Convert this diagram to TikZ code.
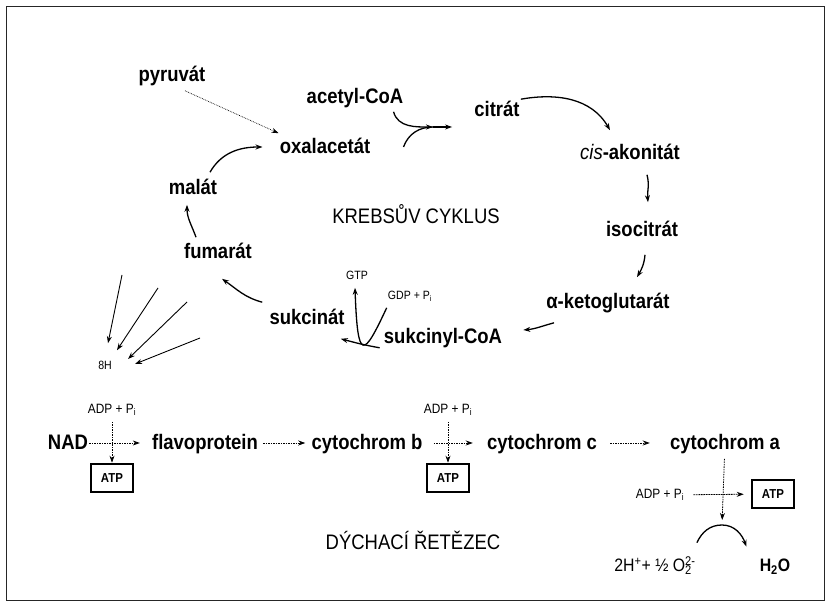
\documentclass[tikz,border=0pt]{standalone}
\usepackage{fontspec}
\setmainfont{Liberation Sans}[FakeStretch=0.88]
\usetikzlibrary{arrows.meta}

\tikzset{
  met/.style={font=\fontsize{21}{24}\selectfont\bfseries,inner sep=1pt,text height=16pt,text depth=3pt},
  ttl/.style={font=\fontsize{21}{24}\selectfont,inner sep=1pt},
  sml/.style={font=\fontsize{12}{14}\selectfont,inner sep=1pt,text height=9pt,text depth=2pt},
  adp/.style={sml,font=\fontsize{13.5}{15}\selectfont},
  rct/.style={font=\fontsize{18}{20}\selectfont,inner sep=1pt,text height=13pt,text depth=3pt},
  atpbox/.style={draw,line width=2.6pt,font=\fontsize{13}{15}\selectfont\bfseries,minimum width=42pt,minimum height=28pt,inner sep=0pt},
  cyc/.style={->,line width=1.3pt},
  resp/.style={->,line width=0.8pt,dash pattern=on 1.6pt off 0.9pt},
}

\begin{document}
\begin{tikzpicture}[x=1pt,y=1pt,>={Stealth[length=7pt,width=5pt]},semithick]
                \useasboundingbox (0,0) rectangle (831,607);
                \draw[line width=1pt,black!85](6, 6) rectangle (824, 600);
                % Krebsuv cyklus
                \node[met](pyruvat)at(172, 532){pyruvát};
                \node[met](acetyl)at(355, 510){acetyl-CoA};
                \node[met](citrat)at(497, 497){citrát};
                \node[met](oxal)at(325, 460){oxalacetát};
                \node[met](cisakon)at(630, 454){{\mdseries\itshape cis}-akonitát};
                \node[met](malat)at(193, 419){malát};
                \node[ttl](krebs)at(416, 393){KREBSŮV CYKLUS};
                \node[met](isocit)at(642, 377){isocitrát};
                \node[met](fumarat)at(218, 355){fumarát};
                \node[sml](gtp)at(357, 331){GTP};
                \node[sml](gdp)at(410, 311){GDP + P\textsubscript{i}};
                \node[met](akg)at(608, 305){α-ketoglutarát};
                \node[met](sukcinat)at(307, 289){sukcinát};
                \node[met](sukcoa)at(443, 270){sukcinyl-CoA};
                \node[sml](eightH)at(105, 241){8H};
                \coordinate(join)at(433, 480);
                \coordinate(h1)at(122, 332);
                \coordinate(h2)at(158, 319);
                \coordinate(h3)at(187, 305);
                \coordinate(h4)at(200, 269);
                \draw[->,densely dotted,line width=0.7pt]([shift={(13pt,-5pt)}]pyruvat.south) -- ([yshift=3pt]oxal.north west);
                \path[cyc]([shift={(-11pt,-4pt)}]acetyl.south east) edge[out=-75,in=180] (join)
                ([xshift=32pt]oxal.east) edge[-,out=70,in=180] (join)
                (join) edge[shorten >=21pt] (join -| citrat.west)
                (citrat.north east) edge[out=10,in=120] ([shift={(-20pt,12pt)}]cisakon.north)
                ([shift={(17pt,-11pt)}]cisakon.south) edge[out=-75,in=95] ([shift={(6pt,17pt)}]isocit.north)
                ([shift={(3pt,-14pt)}]isocit.south) edge[out=-95,in=60] ([shift={(29pt,14pt)}]akg.north)
                ([shift={(9pt,-10pt)}]akg.south west) edge[out=195,in=5] ([shift={(20pt,7pt)}]sukcoa.east)
                ([xshift=-3pt]sukcoa.south west) edge[out=170,in=-15] ([shift={(-5pt,-10pt)}]sukcinat.south east)
                ([yshift=-5pt]gdp.south west) edge[out=-115,in=-88,out distance=55pt,in distance=75pt] ([shift={(-2pt,-5pt)}]gtp.south)
                ([shift={(-6pt,5pt)}]sukcinat.north west) edge[out=165,in=-35] ([shift={(4pt,-16pt)}]fumarat.south)
                ([shift={(-22pt,4pt)}]fumarat.north) edge[out=110,in=-90] ([shift={(-6pt,-6pt)}]malat.south)
                ([shift={(17pt,5pt)}]malat.north) edge[out=60,in=180] ([xshift=-16pt]oxal.west);
                \foreach \i/\dx/\dy/\anc in {1/3/16/north, 2/12/9/north, 3/15/7/east, 4/22/2/east}
                    \draw[->,line width=0.9pt](h\i) -- ([shift={(\dx pt,\dy pt)}]eightH.\anc);
                % dychaci retezec
                \node[met](nad)at(68, 164){NAD};
                \node[met](flavo)at(205, 164){flavoprotein};
                \node[met](cytb)at(367, 164){cytochrom b};
                \node[met](cytc)at(542, 164){cytochrom c};
                \node[met](cyta)at(725, 164){cytochrom a};
                \node[adp](adpA)at(112, 197){ADP + P\textsubscript{i}};
                \node[atpbox](atpA)at(112, 129){ATP};
                \node[adp](adpB)at(448, 197){ADP + P\textsubscript{i}};
                \node[atpbox](atpB)at(448, 129){ATP};
                \node[adp](adpC)at(660, 112){ADP + P\textsubscript{i}};
                \node[atpbox](atpC)at(773, 113){ATP};
                \coordinate(apex)at(722, 82);
                \node[ttl](dychaci)at(413, 67){DÝCHACÍ ŘETĚZEC};
                \node[rct](react)at(655, 40){2H\textsuperscript{+}+ ½ O\rlap{\textsubscript{2}}\textsuperscript{2-}};
                \node[rct,font=\fontsize{18}{20}\selectfont\bfseries](water)at(775, 40){H\textsubscript{2}O};
                \path[resp](nad) edge[shorten >=11pt] (flavo)
                (flavo) edge[shorten <=4pt,shorten >=5pt] (cytb)
                (cytb) edge[shorten <=10pt,shorten >=13pt] (cytc)
                (cytc) edge[shorten <=12pt,shorten >=19pt] (cyta)
                (adpA) edge[shorten <=5pt] (atpA)
                (adpB) edge[shorten <=5pt] (atpB)
                (cyta) edge[shorten <=5pt,shorten >=5pt] (apex)
                (adpC) edge[shorten <=8pt,shorten >=7pt] (atpC);
                \draw[cyc]([yshift=15pt]react.north east) to[out=65,in=180] (apex) to[out=0,in=110] ([shift={(-12pt,11pt)}]water.north west);
            \end{tikzpicture}
\end{document}
